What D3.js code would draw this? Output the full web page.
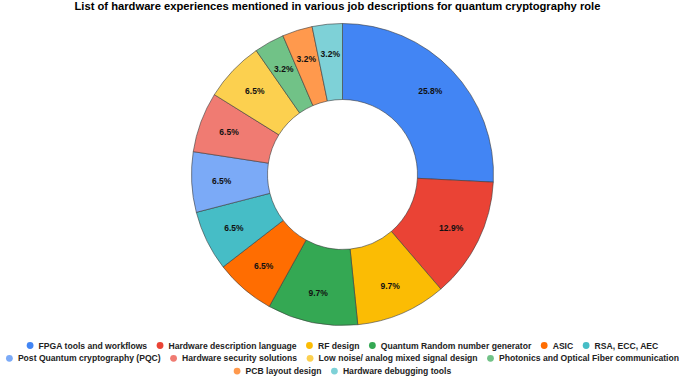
<!DOCTYPE html>
<html>
<head>
<meta charset="utf-8">
<style>
  body { margin: 0; background: #fff; }
  text { font-family: "Liberation Sans", Arial, sans-serif; }
</style>
</head>
<body>
<script src="https://d3js.org/d3.v7.min.js"></script>
<script>
  const categories = [
    'FPGA tools and workflows',
    'Hardware description language',
    'RF design',
    'Quantum Random number generator',
    'ASIC',
    'RSA, ECC, AEC',
    'Post Quantum cryptography (PQC)',
    'Hardware security solutions',
    'Low noise/ analog mixed signal design',
    'Photonics and Optical Fiber communication',
    'PCB layout design',
    'Hardware debugging tools'
  ];
  const counts = [8, 4, 3, 3, 2, 2, 2, 2, 2, 1, 1, 1];
  const colors = ['#4285F4', '#EA4335', '#FBBC04', '#34A853', '#FF6D01', '#46BDC6',
                  '#7BAAF7', '#F07B72', '#FCD04F', '#71C287', '#FF994D', '#7ED1D7'];
  const title = 'List of hardware experiences mentioned in various job descriptions for quantum cryptography role';
  const legendRows = [6, 4, 2];

  const width = 685, height = 376;
  const cx = 342.5, cy = 174.5, outerR = 151, innerR = 75, labelR = 121;

  const svg = d3.select('body').append('svg')
    .attr('width', width)
    .attr('height', height);

  svg.append('text')
    .attr('x', 337.5)
    .attr('y', 9.5)
    .attr('text-anchor', 'middle')
    .attr('font-size', 11.2)
    .attr('font-weight', 'bold')
    .attr('fill', '#000')
    .text(title);

  const data = categories.map((c, i) => ({ name: c, value: counts[i], color: colors[i] }));
  const total = d3.sum(counts);

  const pie = d3.pie().value(d => d.value).sort(null);
  const arc = d3.arc().innerRadius(innerR).outerRadius(outerR);
  const labelArc = d3.arc().innerRadius(labelR).outerRadius(labelR);

  const g = svg.append('g').attr('transform', `translate(${cx},${cy})`);
  const arcs = pie(data);

  g.selectAll('path')
    .data(arcs)
    .join('path')
    .attr('d', arc)
    .attr('fill', d => d.data.color)
    .attr('stroke', '#3c3c3c')
    .attr('stroke-width', 0.6);

  g.selectAll('text')
    .data(arcs)
    .join('text')
    .attr('transform', d => `translate(${labelArc.centroid(d)})`)
    .attr('dy', '0.35em')
    .attr('text-anchor', 'middle')
    .attr('font-size', 8.5)
    .attr('font-weight', 'bold')
    .attr('fill', '#111')
    .text(d => (d.data.value / total * 100).toFixed(1) + '%');

  // legend: dot + label, rows centred under the chart
  const dotR = 3.4, textX = 8.5, gap = 9.5;
  const legend = svg.append('g');
  const items = legend.selectAll('g')
    .data(data)
    .join('g');
  items.append('circle')
    .attr('r', dotR)
    .attr('cx', dotR)
    .attr('fill', d => d.color);
  items.append('text')
    .attr('x', dotR + textX)
    .attr('dy', '0.35em')
    .attr('font-size', 8.6)
    .attr('font-weight', 'bold')
    .attr('fill', '#222')
    .text(d => d.name);

  const widths = [];
  items.each(function () { widths.push(dotR + textX + d3.select(this).select('text').node().getComputedTextLength()); });

  const rowY = [345.5, 358.3, 371.1];
  let start = 0;
  legendRows.forEach((n, ri) => {
    const idx = d3.range(start, start + n);
    start += n;
    const rowW = d3.sum(idx, i => widths[i]) + gap * (n - 1);
    let x = Math.max(0.5, cx - rowW / 2);
    idx.forEach(i => {
      d3.select(items.nodes()[i]).attr('transform', `translate(${x},${rowY[ri]})`);
      x += widths[i] + gap;
    });
  });
</script>
</body>
</html>
